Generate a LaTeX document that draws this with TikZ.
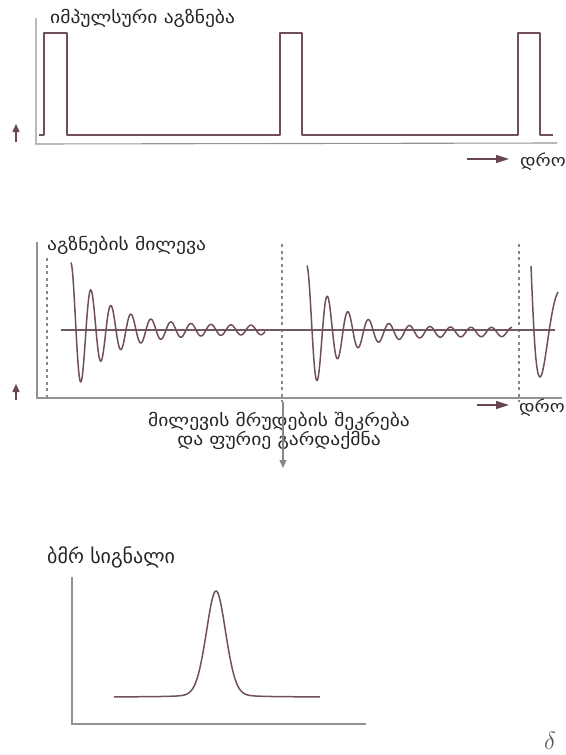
\documentclass[tikz,border=0pt]{standalone}
\usepackage{fontspec}
\newfontfamily\geo{DejaVu Sans}
\newfontfamily\geowide[FakeStretch=1.15]{DejaVu Sans}
\usetikzlibrary{arrows.meta}
\definecolor{curvecol}{RGB}{112,80,86}
\definecolor{axiscol}{RGB}{150,146,148}
\definecolor{dashcol}{RGB}{135,135,135}
\definecolor{arrcol}{RGB}{105,70,78}
\tikzset{
  axisline/.style={draw=axiscol, line width=1.1pt},
  sigline/.style={draw=curvecol, line width=1.5pt, line join=round},
  dashline/.style={draw=dashcol, line width=1.1pt, dash pattern=on 3pt off 3.5pt},
  upar/.style={draw=arrcol, line width=1.3pt, -{Triangle[length=8pt,width=7pt]}},
  timear/.style={draw=arrcol, line width=1.1pt, -{Triangle[length=13pt,width=8pt]}},
  downar/.style={draw=dashcol, line width=1.1pt, -{Triangle[length=8pt,width=7pt]}},
  geolabel/.style={font=\geowide\fontsize{17}{19}\selectfont, inner sep=0pt, text=black!85},
  timelabel/.style={font=\geowide\fontsize{16.5}{18}\selectfont, inner sep=0pt, text=black!85}
}
\begin{document}
\begin{tikzpicture}[x=1pt,y=-1pt]
\useasboundingbox (0,0) rectangle (565,755);
% ---------- top panel ----------
\coordinate (a1o) at (36,144);
\coordinate (a1t) at (36,18);
\coordinate (a1r) at (557,143);
\draw[axisline] (a1t) -- (a1o) -- (a1r);
\draw[sigline] (39,135) -- (44,135) -- (44,33) -- (67,33) -- (67,135) -- (280,135) -- (280,33) -- (302,33) -- (302,135) -- (518,135) -- (518,33) -- (540,33) -- (540,135) -- (553,135);
\node[geolabel, anchor=west] (lab1) at (50,18) {იმპულსური აგზნება};
\coordinate (u1a) at (16,142);
\coordinate (u1b) at (16,124);
\draw[upar] (u1a) -- (u1b);
\coordinate (t1a) at (467,159);
\coordinate (t1b) at (509,159);
\draw[timear] (t1a) -- (t1b);
\node[timelabel, anchor=west] (time1) at (520,162) {დრო};
% ---------- middle panel ----------
\coordinate (a2o) at (37,398);
\coordinate (a2t) at (37,242);
\coordinate (a2r) at (562,398);
\draw[axisline] (a2t) -- (a2o) -- (a2r);
\coordinate (d1a) at (47,258); \coordinate (d1b) at (47,400);
\coordinate (d2a) at (282,244); \coordinate (d2b) at (282,402);
\coordinate (d3a) at (519,244); \coordinate (d3b) at (519,402);
\draw[dashline] (d1a) -- (d1b);
\draw[dashline] (d2a) -- (d2b);
\draw[dashline] (d3a) -- (d3b);
\coordinate (bl1) at (61,330);
\coordinate (bl2) at (555,330);
\draw[draw=curvecol!80!gray, line width=1.1pt] (bl1) -- (bl2);
\draw[sigline] plot[domain=71:265, samples=260, smooth]
  (\x, {330 - (4.5+63*exp(-(\x-71)/35))*cos(18*(\x-71))});
\draw[sigline] plot[domain=307:512, samples=260, smooth]
  (\x, {332 - (4.5+62*exp(-(\x-307)/30))*cos(17.56*(\x-307))});
\draw[sigline] (531,266) .. controls (534,340) and (536,377) .. (540,377)
  .. controls (545,377) and (550,305) .. (558,292);
\node[geolabel, anchor=west] (lab2) at (47,245) {აგზნების მილევა};
\coordinate (u2a) at (16,400);
\coordinate (u2b) at (16,384);
\draw[upar] (u2a) -- (u2b);
\coordinate (t2a) at (477,405);
\coordinate (t2b) at (509,405);
\draw[timear] (t2a) -- (t2b);
\node[timelabel, anchor=west] (time2) at (519,408) {დრო};
\node[geolabel, align=center] (mid) at (279,431) {მილევის მრუდების შეკრება\\და ფურიე გარდაქმნა};
\coordinate (dn1) at (283,402);
\coordinate (dn2) at (283,468);
\draw[downar] (dn1) -- (dn2);
% ---------- bottom panel ----------
\coordinate (a3o) at (72,724);
\coordinate (a3t) at (72,577);
\coordinate (a3r) at (366,724);
\draw[axisline] (a3t) -- (a3o) -- (a3r);
\draw[sigline] plot[domain=114:320, samples=300, smooth]
  (\x, {697 - 106*(0.85*exp(-((\x-216)^2)/200) + 0.15*100/((\x-216)^2+100))});
\node[font=\geo\fontsize{20}{22}\selectfont, inner sep=0pt, anchor=west, text=black!85] (lab3) at (47,557) {ბმრ სიგნალი};
\node[font=\fontsize{27}{29}\selectfont, inner sep=0pt, text=black!65] (delta) at (550,741) {$\delta$};
\end{tikzpicture}
\end{document}
